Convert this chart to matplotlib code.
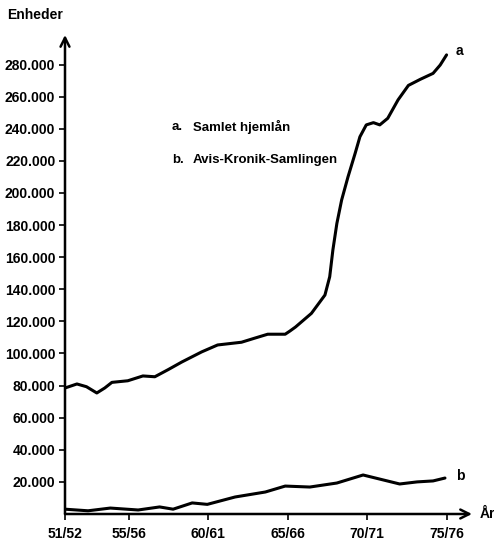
import matplotlib.pyplot as plt
import matplotlib.ticker as mticker

plt.rcParams['font.family'] = ['Liberation Sans', 'DejaVu Sans']

# season index (0 = 51/52) and values
a_years = [0, 0.75, 1.35, 2.0, 2.5, 2.95, 3.95, 4.9, 5.65, 6.5, 7.35, 8.6, 9.6, 11.1,
           11.95, 12.75, 13.85, 14.15, 14.5, 15.5, 16.35, 16.65, 16.85, 17.1, 17.4,
           17.8, 18.25, 18.55, 18.95, 19.4, 19.8, 20.3, 20.95, 21.6, 22.35, 23.15,
           23.6, 24.0]
a_values = [78500, 81000, 79300, 75400, 78500, 82000, 83000, 86000, 85500, 90000,
            94700, 101000, 105300, 107000, 109600, 112000, 112000, 114000, 116500,
            125000, 136400, 147800, 164500, 181000, 195600, 210000, 224700, 235000,
            242400, 243800, 242400, 246500, 258000, 267000, 270800, 274500, 279700,
            286000]

b_years = [0, 1.45, 2.85, 4.6, 5.95, 6.8, 8.0, 8.95, 10.7, 12.6, 13.85, 15.4, 17.1,
           18.75, 21.05, 22.15, 23.15, 23.9]
b_values = [3000, 2000, 3700, 2500, 4400, 3000, 6900, 6000, 10600, 13700, 17400,
            16800, 19300, 24300, 18700, 20000, 20600, 22400]

tick_years = [0, 4, 9, 14, 19, 24]
tick_labels = ['51/52', '55/56', '60/61', '65/66', '70/71', '75/76']
y_ticks = list(range(20000, 300000, 20000))
legend_lines = [('a.', 'Samlet hjemlån'), ('b.', 'Avis-Kronik-Samlingen')]

fig = plt.figure(figsize=(4.94, 5.4), dpi=100)
ax = fig.add_axes([65 / 494, 26 / 540, 407 / 494, 479 / 540])

ax.plot(a_years, a_values, color='black', lw=2.2, solid_capstyle='round', solid_joinstyle='round')
ax.plot(b_years, b_values, color='black', lw=2.2, solid_capstyle='round', solid_joinstyle='round')

ax.set_xlim(0, 25.6)
ax.set_ylim(0, 298400)

for s in ['top', 'right', 'left', 'bottom']:
    ax.spines[s].set_visible(False)

# axes drawn as arrows
ax.annotate('', xy=(1, 0), xytext=(0, 0), xycoords='axes fraction',
            arrowprops=dict(arrowstyle='->', lw=1.8, color='black', shrinkA=0, shrinkB=0,
                            mutation_scale=16))
ax.annotate('', xy=(0, 1), xytext=(0, 0), xycoords='axes fraction',
            arrowprops=dict(arrowstyle='->', lw=1.8, color='black', shrinkA=0, shrinkB=0,
                            mutation_scale=16))

ax.set_xticks(tick_years)
ax.set_xticklabels(tick_labels)
ax.set_yticks(y_ticks)
ax.yaxis.set_major_formatter(mticker.FuncFormatter(lambda v, p: f'{int(v):,}'.replace(',', '.')))
ax.tick_params(axis='both', direction='out', length=4, width=1.2, labelsize=10)
ax.tick_params(axis='x', pad=5)
ax.tick_params(axis='y', pad=3)
for lbl in ax.get_xticklabels() + ax.get_yticklabels():
    lbl.set_fontweight('bold')

ax.text(24.6, a_values[-1] + 2500, 'a', fontsize=10, fontweight='bold', va='center', ha='left')
ax.text(24.6, b_values[-1] + 1000, 'b', fontsize=10, fontweight='bold', va='center', ha='left')

fig.text(7 / 494, 1 - 15 / 540, 'Enheder', fontsize=10, fontweight='bold', va='center', ha='left')
fig.text(480 / 494, 1 - 514 / 540, 'År', fontsize=10, fontweight='bold', va='center', ha='left')

for k, (key, name) in enumerate(legend_lines):
    yy = 1 - (127 + 33 * k) / 540
    fig.text(172 / 494, yy, key, fontsize=9.5, fontweight='bold', va='center', ha='left')
    fig.text(193 / 494, yy, name, fontsize=9.5, fontweight='bold', va='center', ha='left')

fig.savefig('out.png', dpi=100)
